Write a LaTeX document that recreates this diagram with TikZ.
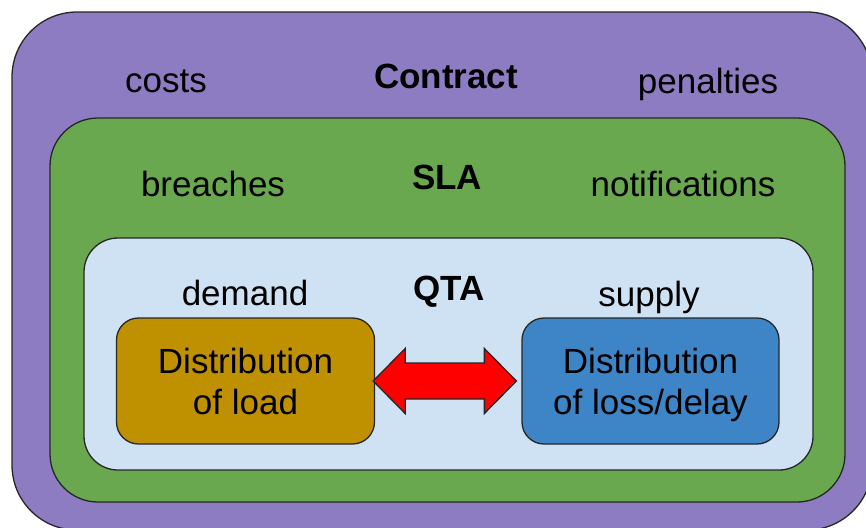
\documentclass[tikz,border=0pt]{standalone}
\usepackage{fontspec}
\setmainfont{Liberation Sans}
\usetikzlibrary{calc}
\definecolor{cPurple}{HTML}{8E7CC3}
\definecolor{cGreen}{HTML}{6AA84F}
\definecolor{cLight}{HTML}{CFE2F3}
\definecolor{cGold}{HTML}{BF9000}
\definecolor{cBlue}{HTML}{3D85C6}
\definecolor{cLine}{HTML}{262626}
\begin{document}
\begin{tikzpicture}[x=0.5pt,y=-0.5pt,
  layer/.style={draw=cLine,line width=0.65pt,inner sep=0pt},
  inbox/.style={draw=cLine,line width=0.65pt,rounded corners=11pt,minimum width=129pt,minimum height=63pt,inner sep=0pt,align=center,text depth=0pt,font=\fontsize{17.5}{20.5}\selectfont},
  lbl/.style={anchor=base,inner sep=0pt,font=\fontsize{17.5}{21}\selectfont},
  ttl/.style={anchor=base,inner sep=0pt,font=\fontsize{17.5}{21}\selectfont\bfseries},
  bigarrow/.style={draw=cLine,line width=0.65pt,fill=red,line join=miter}]
\useasboundingbox (0,0) rectangle (866,527);
\clip (0,0) rectangle (866,527);
\node[layer,fill=cPurple,rounded corners=32.5pt,minimum width=430pt,minimum height=259pt] (contract) at (442,271) {};
\node[layer,fill=cGreen,rounded corners=24pt,minimum width=397.5pt,minimum height=192pt] (sla) at (447.5,310) {};
\node[layer,fill=cLight,rounded corners=17pt,minimum width=364.5pt,minimum height=116pt] (qta) at (448.5,354) {};
\node[lbl] (costs) at (166,92) {costs};
\node[ttl] (contractlbl) at (446,88) {Contract};
\node[lbl] (penalties) at (708,93) {penalties};
\node[lbl] (breaches) at (213,196) {breaches};
\node[ttl] (slalbl) at (447,189) {SLA};
\node[lbl] (notif) at (683,196) {notifications};
\node[lbl] (demand) at (245,305) {demand};
\node[ttl] (qtalbl) at (449,300) {QTA};
\node[lbl] (supply) at (649,306) {supply};
\node[inbox,fill=cGold] (gold) at (245.5,381) {Distribution\\of load};
\node[inbox,fill=cBlue,minimum width=128.5pt] (blue) at (650.5,381) {Distribution\\of loss/delay};
\coordinate (aL) at ($(gold.east)+(-1pt,0)$);
\coordinate (aR) at ($(blue.west)+(-2.5pt,0)$);
\draw[bigarrow] (aL) -- ++(16pt,16.25pt) -- ++(0,-7.25pt) -- ($(aR)+(-16pt,9pt)$) -- ++(0,7.25pt) -- (aR)
  -- ++(-16pt,-16.25pt) -- ++(0,7.25pt) -- ($(aL)+(16pt,-9pt)$) -- ++(0,-7.25pt) -- cycle;
\end{tikzpicture}
\end{document}
